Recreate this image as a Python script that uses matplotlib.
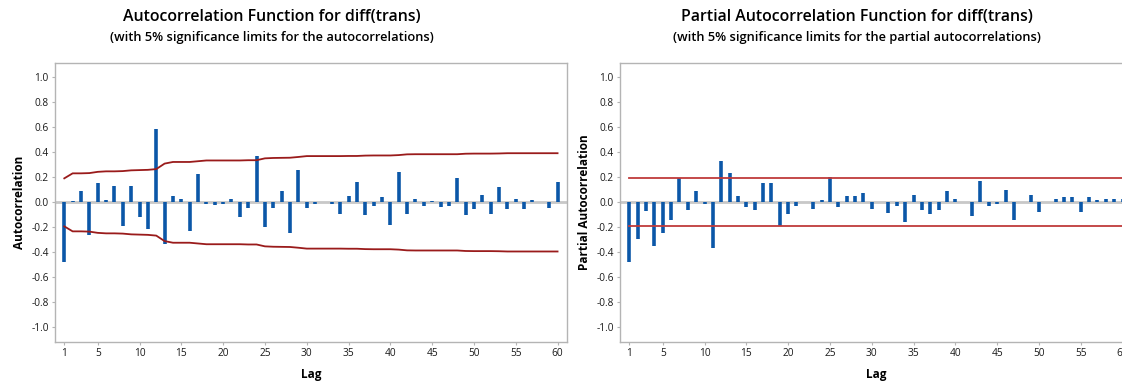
import matplotlib
matplotlib.use("Agg")
import matplotlib.pyplot as plt
import numpy as np

plt.rcParams['font.family'] = ['Open Sans', 'DejaVu Sans']

lags = list(range(1, 61))

acf_values = [
    -0.48, 0.01, 0.09, -0.26, 0.155, 0.02, 0.13, -0.19, 0.13, -0.12,
    -0.21, 0.587, -0.33, 0.048, 0.03, -0.23, 0.224, -0.013, -0.02, -0.013,
    0.03, -0.12, -0.043, 0.368, -0.195, -0.043, 0.09, -0.248, 0.26, -0.043,
    -0.016, 0.0, -0.01, -0.096, 0.051, 0.165, -0.104, -0.027, 0.04, -0.179,
    0.24, -0.096, 0.029, -0.027, 0.011, -0.035, -0.027, 0.192, -0.104, -0.053,
    0.056, -0.096, 0.123, -0.053, 0.029, -0.053, 0.021, 0.0, -0.043, 0.165,
]

acf_limits = [
    0.192, 0.232, 0.232, 0.234, 0.244, 0.248, 0.248, 0.250, 0.256, 0.258,
    0.260, 0.266, 0.310, 0.323, 0.323, 0.323, 0.329, 0.335, 0.335, 0.335,
    0.335, 0.335, 0.337, 0.337, 0.352, 0.355, 0.356, 0.357, 0.363, 0.370,
    0.370, 0.370, 0.370, 0.370, 0.371, 0.371, 0.374, 0.375, 0.375, 0.375,
    0.378, 0.384, 0.385, 0.385, 0.385, 0.385, 0.385, 0.385, 0.389, 0.390,
    0.390, 0.390, 0.391, 0.393, 0.393, 0.393, 0.393, 0.393, 0.393, 0.393,
]

pacf_values = [
    -0.48, -0.296, -0.069, -0.347, -0.245, -0.139, 0.192, -0.064, 0.088, -0.013,
    -0.365, 0.333, 0.232, 0.048, -0.037, -0.064, 0.155, 0.155, -0.187, -0.096,
    -0.027, 0.0, -0.053, 0.021, 0.2, -0.037, 0.048, 0.048, 0.072, -0.053,
    0.0, -0.088, -0.027, -0.155, 0.061, -0.064, -0.096, -0.064, 0.088, 0.029,
    0.0, -0.112, 0.171, -0.027, -0.011, 0.096, -0.139, 0.0, 0.056, -0.08,
    0.0, 0.029, 0.04, 0.045, -0.075, 0.045, 0.021, 0.029, 0.029, 0.03,
]

pacf_limit = 0.192

xticks = [1, 5, 10, 15, 20, 25, 30, 35, 40, 45, 50, 55, 60]
yticks = [-1.0, -0.8, -0.6, -0.4, -0.2, 0.0, 0.2, 0.4, 0.6, 0.8, 1.0]

BAR = '#0b57a8'
GRID = '#c8c8c8'
FRAME = '#b4b4b4'

W, H = 1122, 381
fig = plt.figure(figsize=(W / 100, H / 100), dpi=100)

ax_w = 512 / W
ax_h = (342 - 62.7) / H
ax_b = (H - 342) / H
ax1 = fig.add_axes([55 / W, ax_b, ax_w, ax_h])
ax2 = fig.add_axes([620 / W, ax_b, ax_w, ax_h])


def style(ax, ylabel):
    ax.set_xlim(-0.11, 61.13)
    ax.set_ylim(-1.117, 1.117)
    ax.axhline(0, color=GRID, lw=2.0, zorder=1)
    ax.set_xticks(xticks)
    ax.set_yticks(yticks)
    ax.set_yticklabels([f"{v:.1f}" for v in yticks])
    ax.tick_params(axis='both', labelsize=7.3, colors='#1a1a1a', length=2.5,
                   width=0.8, pad=2)
    ax.tick_params(axis='x', color=FRAME)
    ax.tick_params(axis='y', color=FRAME)
    for s in ax.spines.values():
        s.set_color(FRAME)
        s.set_linewidth(1.0)
    ax.set_xlabel('Lag', fontsize=8.5, fontweight='bold', labelpad=6)
    ax.set_ylabel(ylabel, fontsize=8.5, fontweight='bold', labelpad=4)


style(ax1, 'Autocorrelation')
ax1.vlines(lags, 0, acf_values, color=BAR, lw=2.6, zorder=2)
ax1.plot(lags, acf_limits, color='#9a1b1b', lw=1.3, zorder=3)
ax1.plot(lags, [-v for v in acf_limits], color='#9a1b1b', lw=1.3, zorder=3)

style(ax2, 'Partial Autocorrelation')
ax2.vlines(lags, 0, pacf_values, color=BAR, lw=2.6, zorder=2)
ax2.plot([lags[0], lags[-1]], [pacf_limit, pacf_limit], color='#bf3a3a', lw=1.3, zorder=3)
ax2.plot([lags[0], lags[-1]], [-pacf_limit, -pacf_limit], color='#bf3a3a', lw=1.3, zorder=3)

TW = 'semibold'
fig.text(272 / W, 1 - 17 / H, 'Autocorrelation Function for diff(trans)',
         ha='center', va='center', fontsize=11.4, fontweight=TW)
fig.text(272 / W, 1 - 38 / H, '(with 5% significance limits for the autocorrelations)',
         ha='center', va='center', fontsize=9.3, fontweight=TW)
fig.text(857 / W, 1 - 17 / H, 'Partial Autocorrelation Function for diff(trans)',
         ha='center', va='center', fontsize=11.4, fontweight=TW)
fig.text(857 / W, 1 - 38 / H, '(with 5% significance limits for the partial autocorrelations)',
         ha='center', va='center', fontsize=9.3, fontweight=TW)

fig.savefig('out.png', dpi=100)
